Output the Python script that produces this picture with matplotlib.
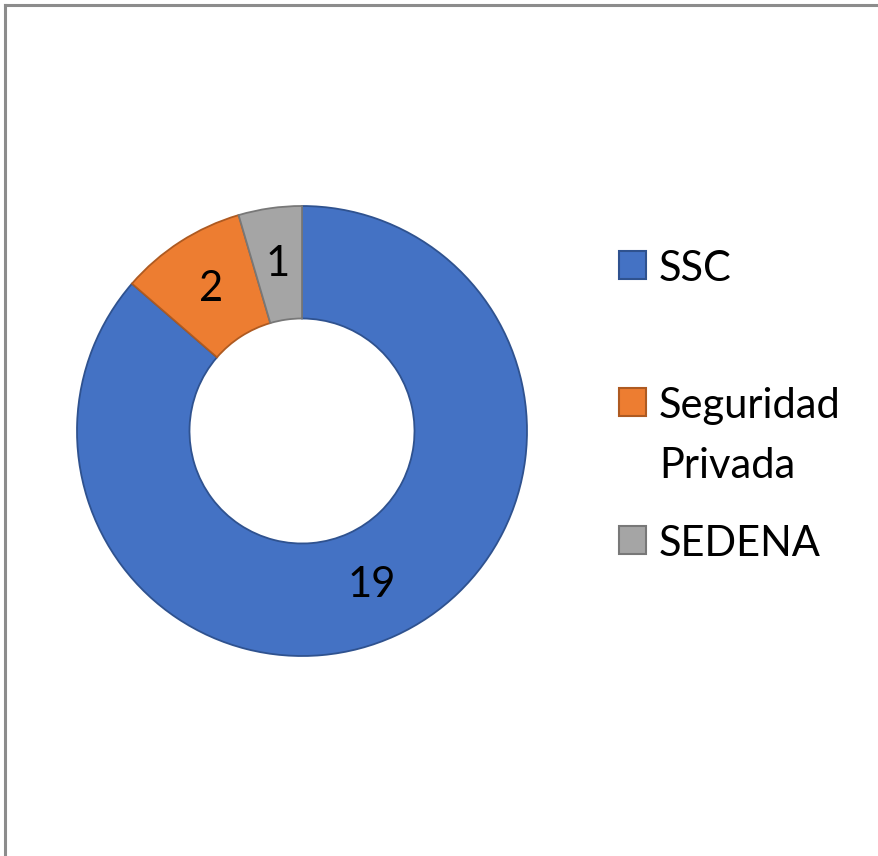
import matplotlib.pyplot as plt
from matplotlib.lines import Line2D
from matplotlib.patches import Rectangle

labels = ["SSC", "Seguridad\nPrivada", "SEDENA"]
values = [19, 2, 1]
colors = ["#4472C4", "#ED7D31", "#A5A5A5"]
edges = ["#2F528F", "#AE5A21", "#787878"]

plt.rcParams["font.family"] = ["Lato", "DejaVu Sans"]

W, H = 879, 856
fig = plt.figure(figsize=(W / 100, H / 100), dpi=100)

# donut: centre (302, 431) px, radius 225 px
cx, cy, r = 302, 431, 225
ax = fig.add_axes([(cx - r) / W, (H - cy - r) / H, 2 * r / W, 2 * r / H])
total = sum(values)
wedges, texts, autotexts = ax.pie(
    values,
    colors=colors,
    startangle=90,
    counterclock=False,
    radius=1,
    wedgeprops=dict(width=0.5, linewidth=1.3),
    autopct=lambda p: f"{round(p * total / 100)}",
    pctdistance=0.75,
    textprops=dict(fontsize=30, color="black"),
)
for w, ec in zip(wedges, edges):
    w.set_edgecolor(ec)
ax.set_xlim(-1, 1)
ax.set_ylim(-1, 1)
ax.set_aspect("equal")
ax.axis("off")

# legend drawn by hand to keep Excel's uneven spacing
# (baseline of the first text line for each entry, in px from top)
legend_base = [281, 418, 556]
line_step = 60
for lab, c, ec, yb in zip(labels, colors, edges, legend_base):
    fig.patches.append(Rectangle((619 / W, (H - yb + 2) / H), 27 / W, 28 / H,
                                 facecolor=c, edgecolor=ec, linewidth=1.5,
                                 transform=fig.transFigure))
    for i, part in enumerate(lab.split("\n")):
        fig.text(659 / W, (H - yb - i * line_step) / H, part, fontsize=30,
                 va="baseline", ha="left")

# chart frame (continues past right and bottom edge)
fig.add_artist(Line2D([5 / W, 5 / W], [-0.1, 1 - 5 / H], color="#8C8C8C", lw=2.2))
fig.add_artist(Line2D([5 / W, 1.1], [1 - 5 / H, 1 - 5 / H], color="#8C8C8C", lw=2.2))

plt.savefig("out.png", dpi=100)
